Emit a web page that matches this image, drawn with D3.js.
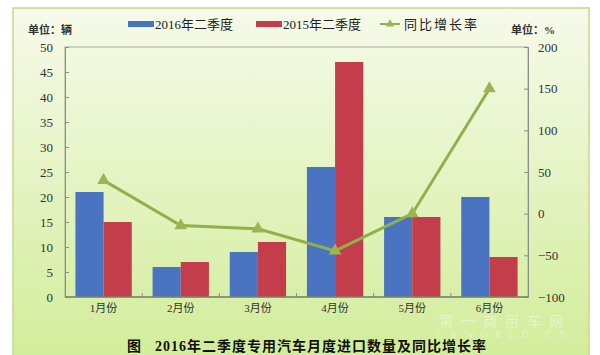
<!DOCTYPE html>
<html>
<head>
<meta charset="utf-8">
<script src="https://cdn.jsdelivr.net/npm/d3@7"></script>
<style>
  body { margin: 0; background: #fff; }
  text { font-family: "Liberation Serif", "Noto Sans CJK SC", serif; }
</style>
</head>
<body>
<svg id="chart" width="600" height="355"></svg>
<script>
// Monthly import of special-purpose vehicles, Q2 2016 vs Q2 2015
const months = ["1月份", "2月份", "3月份", "4月份", "5月份", "6月份"];
const seriesNames = ["2016年二季度", "2015年二季度"];
const values2016 = [21, 6, 9, 26, 16, 20];
const values2015 = [15, 7, 11, 47, 16, 8];
const growthRate = [40, -14.3, -18.2, -44.7, 0, 150];
const leftTicks = [0, 5, 10, 15, 20, 25, 30, 35, 40, 45, 50];
const rightTicks = [-100, -50, 0, 50, 100, 150, 200];

const svg = d3.select("#chart");
const margin = { top: 47, right: 72, bottom: 58, left: 65 };
const width = 600 - margin.left - margin.right;
const height = 355 - margin.top - margin.bottom;

const blue = "#4a74c2";
const red = "#c33d4a";
const green = "#8fb04c";

// background frame with gradient
const defs = svg.append("defs");
const grad = defs.append("linearGradient")
    .attr("id", "bg")
    .attr("x1", 0).attr("y1", 0).attr("x2", 0).attr("y2", 1);
grad.append("stop").attr("offset", "0%").attr("stop-color", "#f6faea");
grad.append("stop").attr("offset", "100%").attr("stop-color", "#d2ed9a");

svg.append("rect")
    .attr("x", 13).attr("y", 8)
    .attr("width", 576).attr("height", 350)
    .attr("fill", "url(#bg)")
    .attr("stroke", "#c5d88e")
    .attr("stroke-width", 1.5);

const g = svg.append("g")
    .attr("transform", `translate(${margin.left},${margin.top})`);

const x0 = d3.scaleBand().domain(months).range([0, width]).padding(0);
const x1 = d3.scaleBand().domain(seriesNames).range([0, x0.bandwidth()]).paddingInner(0).paddingOuter(0.37);
const yLeft = d3.scaleLinear().domain([0, 50]).range([height, 0]);
const yRight = d3.scaleLinear().domain([-100, 200]).range([height, 0]);

// plot box
g.append("rect")
    .attr("width", width).attr("height", height)
    .attr("fill", "none")
    .attr("stroke", "#a8ad9c")
    .attr("stroke-width", 1);

// left axis
const leftAxis = g.append("g")
    .call(d3.axisLeft(yLeft).tickValues(leftTicks).tickSize(-4).tickPadding(12));
leftAxis.select(".domain").attr("stroke", "#8c8c8c");
leftAxis.selectAll(".tick line").attr("stroke", "#8c8c8c");
leftAxis.selectAll("text").style("font-size", "13px").attr("fill", "#333");

// right axis
const rightAxis = g.append("g")
    .attr("transform", `translate(${width},0)`)
    .call(d3.axisRight(yRight).tickValues(rightTicks).tickSize(-4).tickPadding(10));
rightAxis.select(".domain").attr("stroke", "#8c8c8c");
rightAxis.selectAll(".tick line").attr("stroke", "#8c8c8c");
rightAxis.selectAll("text").style("font-size", "13px").attr("fill", "#333");

// category boundary ticks
g.append("g")
    .selectAll("line")
    .data(months.slice(1))
    .join("line")
    .attr("x1", d => x0(d)).attr("x2", d => x0(d))
    .attr("y1", height).attr("y2", height - 4)
    .attr("stroke", "#8c8c8c");

// bars
const barData = months.map((m, i) => ({ month: m, vals: [values2016[i], values2015[i]] }));
const groups = g.append("g")
    .selectAll("g")
    .data(barData)
    .join("g")
    .attr("transform", d => `translate(${x0(d.month)},0)`);

groups.selectAll("rect")
    .data(d => d.vals.map((v, i) => ({ key: seriesNames[i], v })))
    .join("rect")
    .attr("x", d => x1(d.key))
    .attr("width", x1.bandwidth())
    .attr("y", d => yLeft(d.v))
    .attr("height", d => height - yLeft(d.v))
    .attr("fill", (d, i) => i === 0 ? blue : red);

// bottom axis line
g.append("line")
    .attr("x1", 0).attr("x2", width)
    .attr("y1", height).attr("y2", height)
    .attr("stroke", "#7d8270").attr("stroke-width", 1.5);

// x labels
g.append("g")
    .selectAll("text")
    .data(months)
    .join("text")
    .attr("x", d => x0(d) + x0.bandwidth() / 2)
    .attr("y", height + 15)
    .attr("text-anchor", "middle")
    .style("font-size", "11px")
    .attr("fill", "#333")
    .text(d => d);

// growth rate line
const line = d3.line()
    .x((d, i) => x0(months[i]) + x0.bandwidth() / 2)
    .y(d => yRight(d));

g.append("path")
    .datum(growthRate)
    .attr("d", line)
    .attr("fill", "none")
    .attr("stroke", green)
    .attr("stroke-width", 3);

const tri = d3.symbol().type(d3.symbolTriangle).size(70);
g.append("g")
    .selectAll("path")
    .data(growthRate)
    .join("path")
    .attr("transform", (d, i) => `translate(${x0(months[i]) + x0.bandwidth() / 2},${yRight(d)})`)
    .attr("d", tri)
    .attr("fill", "#9cb552");

// units
svg.append("text")
    .attr("x", 28).attr("y", 34)
    .style("font-size", "11px").style("font-weight", "bold")
    .attr("fill", "#333")
    .text("单位：辆");
svg.append("text")
    .attr("x", 511).attr("y", 34)
    .style("font-size", "11px").style("font-weight", "bold")
    .attr("fill", "#333")
    .text("单位：%");

// legend
const legend = svg.append("g").attr("transform", "translate(0,27)");
const legendItems = [
    { name: seriesNames[0], color: blue, x: 128, type: "bar" },
    { name: seriesNames[1], color: red, x: 256, type: "bar" },
    { name: "同比增长率", color: green, x: 380, type: "line" }
];
legendItems.forEach(d => {
    if (d.type === "bar") {
        legend.append("rect")
            .attr("x", d.x).attr("y", -6)
            .attr("width", 26).attr("height", 6)
            .attr("fill", d.color);
    } else {
        legend.append("line")
            .attr("x1", d.x).attr("x2", d.x + 20)
            .attr("y1", -3).attr("y2", -3)
            .attr("stroke", d.color).attr("stroke-width", 2);
        legend.append("path")
            .attr("transform", `translate(${d.x + 10},-3)`)
            .attr("d", d3.symbol().type(d3.symbolTriangle).size(30))
            .attr("fill", "#9cb552");
    }
    legend.append("text")
        .attr("x", d.x + (d.type === "bar" ? 27 : 24)).attr("y", 2)
        .style("font-size", "13px")
        .style("letter-spacing", d.type === "bar" ? "0px" : "2px")
        .attr("fill", "#222")
        .text(d.name);
});

// watermark (faint)
svg.append("text")
    .attr("x", 505).attr("y", 326)
    .attr("text-anchor", "middle")
    .style("font-size", "14px")
    .style("letter-spacing", "8px")
    .attr("fill", "#ffffff").attr("opacity", 0.4)
    .text("第一商用车网");
svg.append("text")
    .attr("x", 505).attr("y", 338)
    .attr("text-anchor", "middle")
    .style("font-size", "10px")
    .style("letter-spacing", "7px")
    .attr("fill", "#ffffff").attr("opacity", 0.4)
    .text("CVWORLD.CN");

// title
svg.append("text")
    .attr("x", 127).attr("y", 351)
    .style("font-size", "14px").style("font-weight", "bold")
    .attr("fill", "#111")
    .text("图");
svg.append("text")
    .attr("x", 155).attr("y", 351)
    .style("font-size", "14px").style("font-weight", "bold")
    .style("letter-spacing", "1px")
    .attr("fill", "#111")
    .text("2016年二季度专用汽车月度进口数量及同比增长率");
</script>
</body>
</html>
